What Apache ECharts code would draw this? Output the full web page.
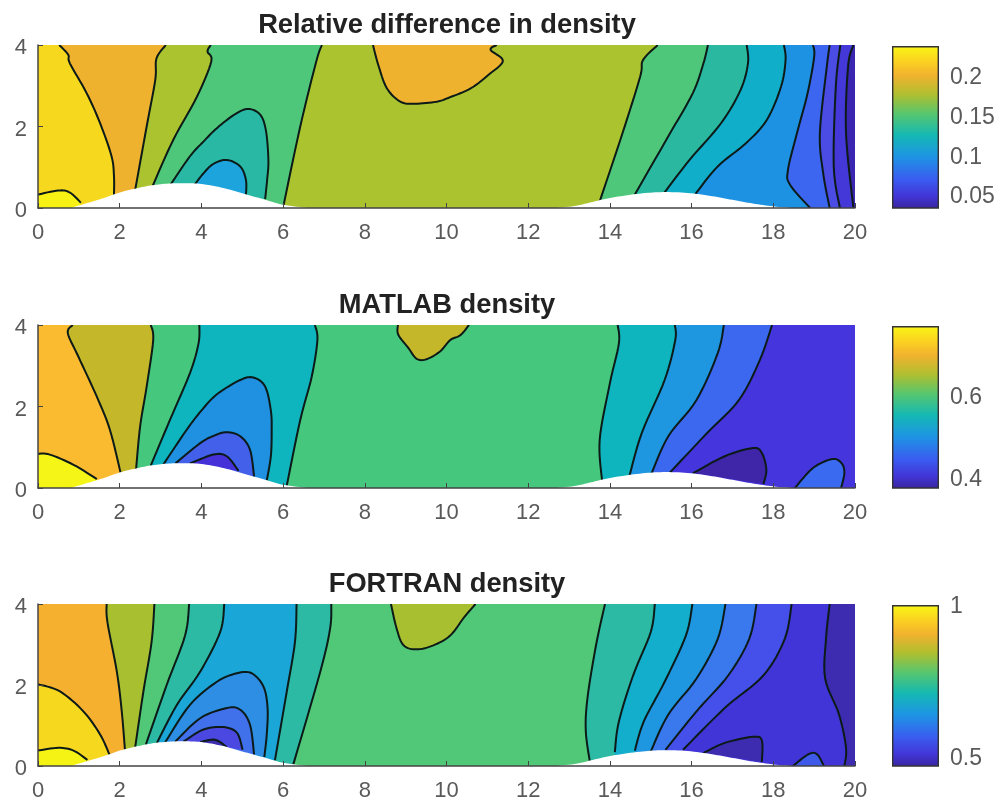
<!DOCTYPE html>
<html><head><meta charset="utf-8">
<style>html,body{margin:0;padding:0;background:#fff}#c{width:1003px;height:804px;filter:blur(0.45px)}</style>
<script src="https://cdn.jsdelivr.net/npm/echarts@6/dist/echarts.min.js"></script>
</head><body><div id="c"></div>
<script>
const xTicks = [0,2,4,6,8,10,12,14,16,18,20];
const yTicks = [0,2,4];
const titles = ['Relative difference in density','MATLAB density','FORTRAN density'];
const terrainLeft = [[0.8,0],[1.2,0.12],[1.6,0.24],[2,0.38],[2.4,0.48],[2.8,0.56],[3.2,0.6],[3.6,0.61],[4,0.59],[4.5,0.5],[5,0.36],[5.5,0.22],[6,0.08],[6.6,0]];
const terrainRight = [[12.7,0],[13.2,0.06],[13.7,0.18],[14.2,0.28],[14.8,0.36],[15.3,0.39],[15.9,0.37],[16.5,0.29],[17,0.2],[17.5,0.11],[18,0.04],[18.5,0]];

// Relative difference contours
const relBase = '#F6D81F';
const relLines = [
 [[0,0.33],[0.5,0.43],[0.78,0.38],[1.05,0.13]],
 [[0.52,4],[0.74,3.76],[0.78,3.55],[1.19,2.82],[1.52,2.08],[1.8,1.27],[1.86,0.78],[1.86,0.3]],
 [[3.13,4],[2.9,3.67],[2.87,3.14],[2.66,2],[2.38,0.45]],
 [[4.23,4],[4.15,3.84],[4.24,3.59],[3.89,2.73],[3.31,1.67],[2.81,0.55]],
 [[3.25,0.58],[3.72,1.27],[4.05,1.63],[4.38,1.96],[4.82,2.3],[5.15,2.43],[5.44,2.29],[5.58,1.9],[5.64,1.18],[5.61,0.7],[5.56,0.22]],
 [[3.84,0.58],[4.05,0.85],[4.29,1.08],[4.62,1.18],[4.95,1.02],[5.09,0.69],[5.09,0.3]],
 [[6.95,4],[6.81,3.59],[6.42,2],[6.01,0.06]],
 [[8.2,4],[8.33,3.51],[8.54,2.94],[8.87,2.61],[9.23,2.56],[9.76,2.61],[10.09,2.72],[10.6,2.94],[11.03,3.27],[11.38,3.61],[11.08,3.88],[11.23,4]],
 [[15.17,4],[14.81,3.63],[14.74,3.22],[14.31,1.84],[13.75,0.16]],
 [[16.4,4],[16.29,3.55],[16.03,2.82],[15.43,1.76],[14.61,0.33]],
 [[17.35,4],[17.38,3.55],[17.2,2.9],[16.72,2.08],[15.95,1.18],[15.32,0.36]],
 [[18.26,4],[18.3,3.63],[18.19,2.98],[17.84,2.16],[17.33,1.59],[16.64,1.02],[16.09,0.34]],
 [[18.97,4],[19,3.71],[18.84,2.82],[18.58,1.84],[18.36,0.94],[18.41,0.57],[18.9,0]],
 [[19.38,4],[19.31,3.47],[19.14,1.84],[19.22,0.86],[19.38,0]],
 [[19.64,4],[19.53,2.98],[19.48,1.02],[19.63,0]],
 [[19.96,4],[19.83,3.47],[19.78,1.84],[19.96,0]]
];
const relKinds = ['C','R','R','R','L','L','R','L','R','R','R','R','R','R','R','R'];
const relFills = ['#F7F213','#EFB22E','#AAC32F','#4FC77A','#28B8A4','#1EA4DC','#AAC32F','#EFB22E','#4FC77A','#2AB8A0','#10AEC8','#1E92E2','#3C66F0','#4A4CE4','#4438D8','#3A26B0'];

// MATLAB density contours
const matBase = '#FBBB30';
const matLines = [
 [[0,0.84],[0.29,0.82],[0.87,0.57],[1.44,0.22]],
 [[0.85,4],[0.73,3.8],[0.99,3.22],[1.44,2.24],[1.76,1.43],[2.02,0.38]],
 [[2.76,4],[2.82,3.63],[2.66,2.49],[2.5,1.51],[2.4,0.45]],
 [[3.95,4],[3.93,3.55],[3.72,2.82],[3.23,1.67],[2.76,0.55]],
 [[3.07,0.58],[3.64,1.43],[4,1.9],[4.38,2.3],[4.95,2.65],[5.27,2.71],[5.56,2.49],[5.7,1.9],[5.72,1.4],[5.7,0.78],[5.6,0.18]],
 [[3.36,0.6],[3.97,1.1],[4.3,1.28],[4.62,1.37],[4.95,1.27],[5.19,0.94],[5.29,0.28]],
 [[3.72,0.6],[4.29,0.82],[4.62,0.78],[4.91,0.42]],
 [[6.78,4],[6.84,3.63],[6.7,2.73],[6.42,1.67],[6.09,0.06]],
 [[8.81,4],[8.82,3.76],[9.07,3.43],[9.27,3.17],[9.51,3.16],[9.84,3.35],[10.09,3.63],[10.34,3.75],[10.55,4]],
 [[14.19,4],[14.22,3.55],[14,2.57],[13.75,1.18],[13.81,0.16]],
 [[15.59,4],[15.6,3.63],[15.34,2.65],[14.78,1.35],[14.48,0.3]],
 [[16.79,4],[16.64,3.31],[16.12,2.16],[15.43,1.27],[15.02,0.36]],
 [[17.97,4],[17.67,3.14],[17.16,2.16],[16.38,1.35],[15.47,0.38]],
 [[16.03,0.36],[16.81,0.78],[17.5,0.98],[17.72,0.86],[17.83,0.45],[17.76,0.1]],
 [[18.53,0],[18.97,0.49],[19.44,0.71],[19.67,0.61],[19.74,0.37],[19.66,0]]
];
const matKinds = ['C','R','R','R','L','L','L','R','L','R','R','R','R','L','L'];
const matFills = ['#F5F518','#C4B82A','#46C77E','#0EB4BE','#2090E0','#4260EA','#4630D8','#46C77E','#C4B82A','#0EB4BE','#1E96E0','#3C68F0','#4436DC','#3F25A8','#3A6AEF'];

// FORTRAN density contours
const forBase = '#F6B030';
const forLines = [
 [[0,2.02],[0.54,1.84],[1.11,1.35],[1.52,0.78],[1.75,0.28]],
 [[0,0.38],[0.5,0.45],[0.87,0.38],[1.21,0.15]],
 [[1.68,4],[1.7,3.55],[1.93,2.33],[2.05,1.35],[2.13,0.38]],
 [[2.85,4],[2.78,3.06],[2.58,1.84],[2.38,0.47]],
 [[3.7,4],[3.6,3.22],[3.15,2],[2.64,0.53]],
 [[4.56,4],[4.46,3.31],[3.97,2.33],[3.4,1.51],[2.91,0.57]],
 [[3.11,0.58],[3.72,1.51],[4.38,2.08],[4.87,2.29],[5.23,2.29],[5.52,1.96],[5.62,1.43],[5.6,0.78],[5.54,0.22]],
 [[3.36,0.6],[3.97,1.18],[4.62,1.43],[4.95,1.39],[5.19,1.02],[5.29,0.28]],
 [[3.56,0.6],[4.05,0.9],[4.54,0.96],[4.87,0.82],[5.01,0.4]],
 [[3.97,0.59],[4.33,0.65],[4.62,0.47]],
 [[6.33,4],[6.29,3.06],[6.09,1.84],[5.8,0.14]],
 [[7.18,4],[7.15,3.39],[6.91,2.33],[6.25,0.04]],
 [[8.64,4],[8.78,3.39],[8.95,2.98],[9.27,2.88],[9.68,2.98],[10.09,3.22],[10.43,3.67],[10.71,4]],
 [[13.88,4],[13.66,2.98],[13.45,1.67],[13.41,0.86],[13.51,0.1]],
 [[15.1,4],[15,3.31],[14.57,2.24],[14.22,1.1],[14.12,0.34]],
 [[16.02,4],[15.86,3.22],[15.34,2.08],[14.83,1.1],[14.61,0.38]],
 [[16.83,4],[16.64,3.14],[16.12,2.16],[15.43,1.27],[15,0.36]],
 [[17.59,4],[17.41,3.14],[16.9,2.24],[16.12,1.35],[15.36,0.4]],
 [[18.45,4],[18.28,3.14],[17.76,2.24],[16.81,1.43],[15.79,0.4]],
 [[19.38,4],[19.29,3.14],[19.27,2.16],[19.61,1.27],[19.78,0.45],[19.74,0]],
 [[16.29,0.32],[16.81,0.57],[17.5,0.72],[17.72,0.63],[17.72,0.1]],
 [[18.48,0],[18.86,0.29],[19.07,0.29],[19.24,0]]
];
const forKinds = ['C','C','R','R','R','R','L','L','L','L','R','R','L','R','R','R','R','R','R','R','L','L'];
const forFills = ['#F6D81F','#F5F314','#A8C030','#50C878','#2CBAA4','#1AA6D6','#2E8EE4','#4070EA','#4A48E0','#3E2CB0','#2CBAA4','#50C878','#A8C030','#2CBAA4','#12AECB','#1E96E0','#3A78EE','#4550EA','#4135D8','#3D2CB0','#3D2CB0','#3F5AE8'];

// Colour bars
const relBarTicks = [0.05,0.1,0.15,0.2], relBarRange = [0.0335,0.238];
const matBarTicks = [0.4,0.6], matBarRange = [0.375,0.77];
const forBarTicks = [0.5,1], forBarRange = [0.47,1];
const barStops = [[0,'#F9F714'],[0.1,'#FBCF22'],[0.18,'#F2B22E'],[0.3,'#AEBF30'],[0.42,'#55C670'],[0.55,'#14B8B4'],[0.68,'#1E94E4'],[0.82,'#3A5CF0'],[0.92,'#4236D8'],[1,'#3A26A0']];

const gridTops = [45,325,604], gridH = [163,163,162];
const textGrey = '#5a5a5a';

function smooth(pts){
  if(pts.length<3) return pts;
  const out=[];
  for(let i=0;i<pts.length-1;i++){
    const p0=pts[Math.max(i-1,0)],p1=pts[i],p2=pts[i+1],p3=pts[Math.min(i+2,pts.length-1)];
    for(let k=0;k<8;k++){
      const t=k/8,t2=t*t,t3=t2*t;
      out.push([0,1].map(d=>0.5*(2*p1[d]+(p2[d]-p0[d])*t+(2*p0[d]-5*p1[d]+4*p2[d]-p3[d])*t2+(3*p1[d]-p0[d]-3*p2[d]+p3[d])*t3)));
    }
  }
  out.push(pts[pts.length-1]);
  return out;
}
function fillSeries(gi,base,lines,kinds,fills){
  const layers=[{base:true}].concat(lines.map((l,i)=>({l,kind:kinds[i],fill:fills[i]})));
  return {type:'custom',xAxisIndex:gi,yAxisIndex:gi,z:2,silent:true,clip:true,data:layers.map((_,i)=>[i]),encode:{x:0},
    renderItem(p,api){
      const L=layers[p.dataIndex]; const c=q=>api.coord(q);
      if(L.base) return {type:'polygon',shape:{points:[[0,0],[20,0],[20,4],[0,4]].map(c)},style:{fill:base}};
      const s=smooth(L.l.map(c)); const end=L.l[L.l.length-1];
      let extra=[];
      if(L.kind==='R') extra=[[end[0],0],[20,0],[20,4]];
      if(L.kind==='C') extra=[[end[0],0],[0,0]];
      return {type:'polygon',shape:{points:s.concat(extra.map(c))},style:{fill:L.fill}};
    }};
}
function lineSeries(gi,lines){
  return {type:'custom',xAxisIndex:gi,yAxisIndex:gi,z:3,silent:true,clip:true,data:lines.map((_,i)=>[i]),encode:{x:0},
    renderItem(p,api){
      return {type:'polyline',shape:{points:smooth(lines[p.dataIndex].map(q=>api.coord(q)))},style:{stroke:'#0c1a18',fill:null,lineWidth:2}};
    }};
}
function terrainSeries(gi){
  const hills=[terrainLeft,terrainRight];
  return {type:'custom',xAxisIndex:gi,yAxisIndex:gi,z:4,silent:true,clip:true,data:[[0],[1]],encode:{x:0},
    renderItem(p,api){
      return {type:'polygon',shape:{points:smooth(hills[p.dataIndex].map(q=>api.coord(q)))},style:{fill:'#fff'}};
    }};
}
const grids=[],xAxes=[],yAxes=[],series=[],titleOpts=[];
const panels=[[relBase,relLines,relKinds,relFills],[matBase,matLines,matKinds,matFills],[forBase,forLines,forKinds,forFills]];
const bars=[[relBarTicks,relBarRange],[matBarTicks,matBarRange],[forBarTicks,forBarRange]];
panels.forEach((P,i)=>{
  grids.push({left:38,width:817,top:gridTops[i],height:gridH[i]});
  titleOpts.push({text:titles[i],left:442,textAlign:'center',top:gridTops[i]-38,textStyle:{fontFamily:'Liberation Sans',fontWeight:'bold',fontSize:27.3,color:'#222'}});
  xAxes.push({type:'value',gridIndex:i,min:0,max:20,interval:2,z:6,splitLine:{show:false},
    axisLine:{show:true,onZero:false,lineStyle:{color:'#444',width:1.5}},axisTick:{show:true,inside:true,length:5,lineStyle:{color:'#444'}},
    axisLabel:{color:textGrey,fontSize:22,fontFamily:'Liberation Sans',margin:14,formatter:v=>String(v)}});
  yAxes.push({type:'value',gridIndex:i,min:0,max:4,interval:2,z:6,splitLine:{show:false},
    axisLine:{show:true,onZero:false,lineStyle:{color:'#444',width:1.5}},axisTick:{show:true,inside:true,length:5,lineStyle:{color:'#444'}},
    axisLabel:{color:textGrey,fontSize:22,fontFamily:'Liberation Sans',margin:11,verticalAlign:'top',lineHeight:6}});
  series.push(fillSeries(i,P[0],P[1],P[2],P[3]),lineSeries(i,P[1]),terrainSeries(i));
});
bars.forEach((B,i)=>{
  const gi=3+i;
  grids.push({left:892,width:47,top:gridTops[i]+1,height:gridH[i]-1});
  xAxes.push({type:'category',gridIndex:gi,data:[''],show:false});
  yAxes.push({type:'value',gridIndex:gi,position:'right',min:B[1][0],max:B[1][1],splitLine:{show:false},axisLine:{show:false},axisTick:{show:false},
    axisLabel:{show:true,color:textGrey,fontSize:23,fontFamily:'Liberation Sans',margin:11,customValues:B[0],verticalAlign:'top',lineHeight:4}});
  series.push({type:'bar',xAxisIndex:gi,yAxisIndex:gi,barWidth:'100%',silent:true,data:[B[1][1]],
    itemStyle:{borderColor:'#333',borderWidth:1.4,color:new echarts.graphic.LinearGradient(0,0,0,1,barStops.map(s=>({offset:s[0],color:s[1]})))}});
});
const chart=echarts.init(document.getElementById('c'),null,{renderer:'canvas'});
chart.setOption({animation:false,backgroundColor:'#fff',title:titleOpts,grid:grids,xAxis:xAxes,yAxis:yAxes,series});
</script></body></html>
